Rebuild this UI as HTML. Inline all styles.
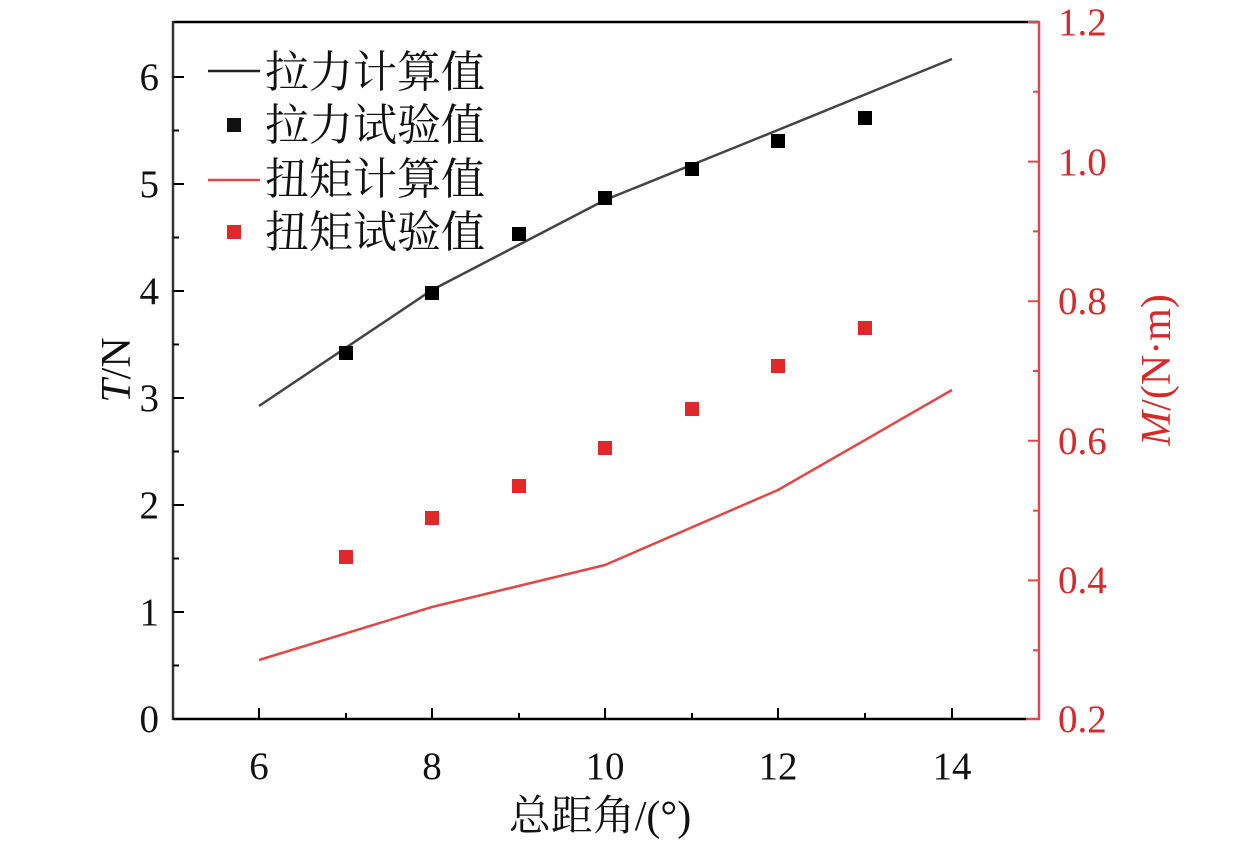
<!DOCTYPE html>
<html><head><meta charset="utf-8"><style>body{margin:0;background:#fff}svg{display:block}text{font-family:"Liberation Serif","Noto Serif CJK SC",serif}</style></head>
<body>
<svg width="1259" height="843" viewBox="0 0 1259 843" xmlns="http://www.w3.org/2000/svg">
<line x1="173" y1="22" x2="1039" y2="22" stroke="#000" stroke-width="2.5"/>
<line x1="173" y1="21" x2="173" y2="720" stroke="#333" stroke-width="2.5"/>
<line x1="173" y1="719" x2="1026" y2="719" stroke="#000" stroke-width="2.5"/>
<line x1="1039" y1="21" x2="1039" y2="720" stroke="#e04848" stroke-width="2.5"/>
<line x1="1026" y1="719" x2="1040" y2="719" stroke="#e04848" stroke-width="2.5"/>
<g stroke="#000" stroke-width="2">
<path d="M173 77h11M173 184h11M173 291h11M173 398h11M173 505h11M173 612h11M173 130.5h6M173 237.5h6M173 344.5h6M173 451.5h6M173 558.5h6M173 665.5h6"/>
<path d="M259 719v-11M432 719v-11M605 719v-11M778 719v-11M952 719v-11M346 719v-6M519 719v-6M692 719v-6M865 719v-6"/>
</g>
<g stroke="#e04848" stroke-width="2">
<path d="M1039 22h-11M1039 161.6h-11M1039 301.2h-11M1039 440.8h-11M1039 580.4h-11M1039 91.8h-6M1039 231.4h-6M1039 371h-6M1039 510.6h-6M1039 650.2h-6"/>
</g>
<g font-size="39" fill="#111" text-anchor="end">
<text x="159" y="90">6</text><text x="159" y="197">5</text><text x="159" y="304">4</text><text x="159" y="411">3</text><text x="159" y="518">2</text><text x="159" y="625">1</text><text x="159" y="732">0</text>
</g>
<g font-size="39" fill="#111" text-anchor="middle">
<text x="259" y="779">6</text><text x="432" y="779">8</text><text x="605" y="779">10</text><text x="778" y="779">12</text><text x="952" y="779">14</text>
</g>
<g font-size="39" fill="#d42a2a">
<text x="1058" y="35">1.2</text><text x="1058" y="175">1.0</text><text x="1058" y="314">0.8</text><text x="1058" y="454">0.6</text><text x="1058" y="593">0.4</text><text x="1058" y="732">0.2</text>
</g>
<text x="600" y="830" font-size="42" text-anchor="middle" fill="#111">总距角/(°)</text>
<text transform="translate(130,370) rotate(-90)" font-size="42" text-anchor="middle" fill="#111"><tspan font-style="italic">T</tspan>/N</text>
<text transform="translate(1170,370) rotate(-90)" font-size="42" text-anchor="middle" fill="#d42a2a"><tspan font-style="italic">M</tspan>/(N·m)</text>
<polyline points="259,406 432,290 605,200 778,130 952,59" fill="none" stroke="#444" stroke-width="2.5"/>
<polyline points="259,660 432,607 605,565 778,490 952,390" fill="none" stroke="#e04848" stroke-width="2.5"/>
<g fill="#000">
<rect x="339" y="346" width="14" height="14"/><rect x="425" y="286" width="14" height="14"/><rect x="512" y="227" width="14" height="14"/><rect x="598" y="191" width="14" height="14"/><rect x="685" y="162" width="14" height="14"/><rect x="771" y="134" width="14" height="14"/><rect x="858" y="111" width="14" height="14"/>
</g>
<g fill="#e0282a">
<rect x="339" y="550" width="14" height="14"/><rect x="425" y="511" width="14" height="14"/><rect x="512" y="479" width="14" height="14"/><rect x="598" y="441" width="14" height="14"/><rect x="685" y="402" width="14" height="14"/><rect x="771" y="359" width="14" height="14"/><rect x="858" y="321" width="14" height="14"/>
</g>
<line x1="208" y1="71" x2="260" y2="71" stroke="#222" stroke-width="2.5"/>
<rect x="227" y="118" width="14" height="14" fill="#111"/>
<line x1="208" y1="180" x2="260" y2="180" stroke="#e04848" stroke-width="2.5"/>
<rect x="227" y="225" width="14" height="14" fill="#e0282a"/>
<g font-size="44" fill="#111">
<text x="265" y="87">拉力计算值</text>
<text x="265" y="140">拉力试验值</text>
<text x="265" y="194">扭矩计算值</text>
<text x="265" y="247">扭矩试验值</text>
</g>
</svg>
</body></html>
